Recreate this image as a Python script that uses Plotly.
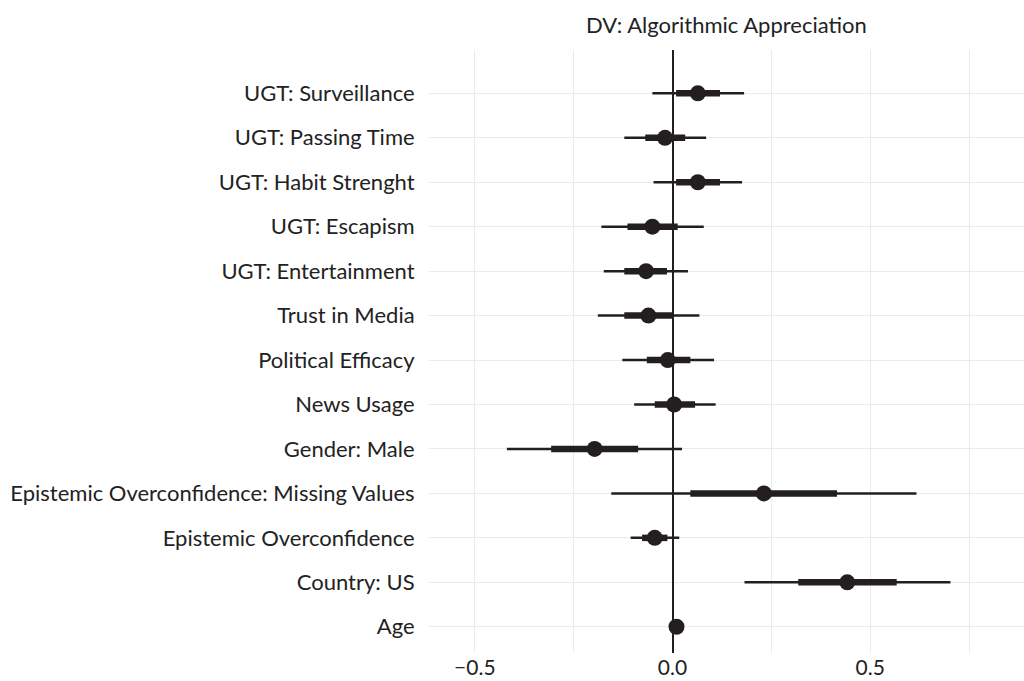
import plotly.graph_objects as go

# Data (bottom to top)
labels = ["Age", "Country: US", "Epistemic Overconfidence",
          "Epistemic Overconfidence: Missing Values", "Gender: Male",
          "News Usage", "Political Efficacy", "Trust in Media",
          "UGT: Entertainment", "UGT: Escapism", "UGT: Habit Strenght",
          "UGT: Passing Time", "UGT: Surveillance"]
estimate = [0.010, 0.442, -0.045, 0.231, -0.197, 0.004, -0.012, -0.061,
            -0.067, -0.051, 0.064, -0.019, 0.064]
lo95 = [0.004, 0.182, -0.106, -0.155, -0.419, -0.097, -0.127, -0.189,
        -0.174, -0.180, -0.048, -0.122, -0.051]
hi95 = [0.016, 0.703, 0.017, 0.617, 0.024, 0.109, 0.105, 0.068,
        0.039, 0.079, 0.176, 0.085, 0.181]
lo_in = [0.007, 0.318, -0.077, 0.045, -0.307, -0.045, -0.065, -0.122,
         -0.122, -0.114, 0.009, -0.069, 0.009]
hi_in = [0.013, 0.567, -0.013, 0.416, -0.087, 0.057, 0.045, 0.0,
         -0.014, 0.013, 0.120, 0.032, 0.120]
x_ticks = [-0.5, 0.0, 0.5]
x_tick_text = ["\u22120.5", "0.0", "0.5"]
title = "DV: Algorithmic Appreciation"

ink = "#231f20"
ypos = list(range(len(labels)))

def segs(lo, hi):
    xs, ys = [], []
    for i, (a, b) in enumerate(zip(lo, hi)):
        xs += [a, b, None]
        ys += [ypos[i], ypos[i], None]
    return xs, ys

fig = go.Figure()
x1, y1 = segs(lo95, hi95)
fig.add_trace(go.Scatter(x=x1, y=y1, mode="lines",
                         line=dict(color=ink, width=2.5), hoverinfo="skip"))
x2, y2 = segs(lo_in, hi_in)
fig.add_trace(go.Scatter(x=x2, y=y2, mode="lines",
                         line=dict(color=ink, width=6.5), hoverinfo="skip"))
fig.add_trace(go.Scatter(x=estimate, y=ypos, mode="markers",
                         marker=dict(color=ink, size=16, line=dict(width=0))))

font_family = "Lato, Open Sans, sans-serif"
fs = 22
fig.update_layout(
    width=1024, height=681,
    margin=dict(l=429, r=0, t=50, b=28),
    paper_bgcolor="white", plot_bgcolor="white",
    showlegend=False,
    font=dict(family=font_family, size=fs, color="#222222"),
    xaxis=dict(range=[-0.616, 0.889], tickvals=x_ticks, ticktext=x_tick_text,
               automargin=False,
               showgrid=True, gridcolor="#ebebeb", gridwidth=1.2,
               minor=dict(dtick=0.25, tick0=0, showgrid=True,
                          gridcolor="#ebebeb", gridwidth=1.2),
               zeroline=True, zerolinecolor=ink, zerolinewidth=1.8,
               ticks="", showline=False,
               tickfont=dict(size=21, color="#222222")),
    yaxis=dict(range=[-0.59, 12.975], tickvals=ypos, ticktext=labels,
               automargin=False,
               showgrid=True, gridcolor="#ebebeb", gridwidth=1.2,
               zeroline=False, showline=False,
               ticks="outside", ticklen=9, tickcolor="rgba(0,0,0,0)",
               tickfont=dict(size=fs, color="#222222")),
    annotations=[dict(text=title, xref="paper", yref="paper",
                      x=0.5, y=1, yshift=26, xanchor="center", yanchor="middle",
                      showarrow=False, font=dict(size=fs, color="#222222"))],
)

fig.write_html("out.html")
